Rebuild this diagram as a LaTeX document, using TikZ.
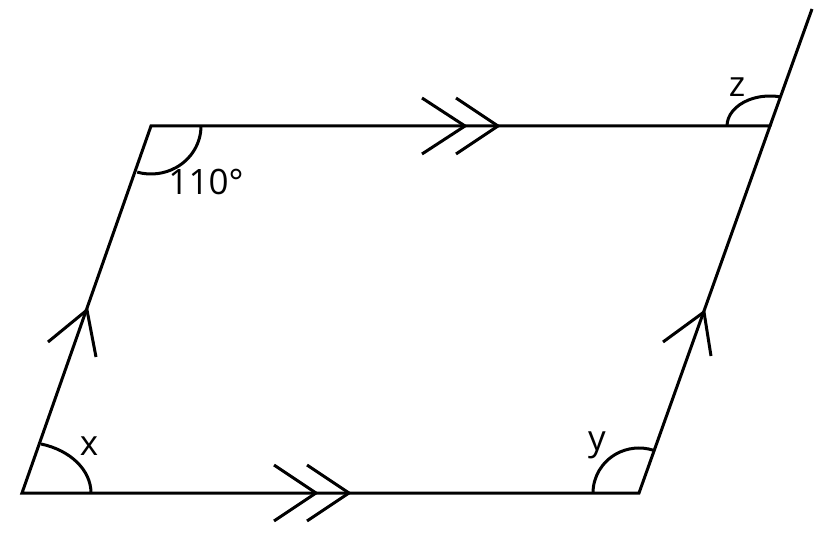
\documentclass[tikz,border=0pt]{standalone}
\usepackage{fontspec}
\setmainfont{Open Sans}
\begin{document}
\begin{tikzpicture}[x=1pt,y=-1pt,
  edge/.style={line width=3pt,line join=miter},
  tick/.style={line width=3pt},
  anglearc/.style={line width=3pt},
  lab/.style={font=\fontsize{35}{40}\selectfont,inner sep=0pt}]
\useasboundingbox (0,0) rectangle (819,534);
\coordinate (BL) at (22,493);
\coordinate (BR) at (639,493);
\coordinate (TR) at (770,126);
\coordinate (TL) at (151,126);
\coordinate (EX) at (812,9);
% parallelogram
\draw[edge] (BL) -- (BR) -- (TR) -- (TL) -- cycle;
\draw[edge] (TR) -- (EX);
% double chevrons bottom
\draw[tick] (274,465) -- (316,493) -- (274,521);
\draw[tick] (307,465) -- (349,493) -- (307,521);
% double chevrons top
\draw[tick] (422,98) -- (465,126) -- (422,154);
\draw[tick] (456,98) -- (498,126) -- (456,154);
% single chevrons on sides
\draw[tick] (48,342) -- (87,310) -- (96,357);
\draw[tick] (663,342) -- (704,312) -- (711,356);
% angle arcs
\draw[anglearc] (91,493) arc[start angle=0,end angle=-74,x radius=69,y radius=51];
\draw[anglearc] (201,126) arc[start angle=0,end angle=106,x radius=50,y radius=48];
\draw[anglearc] (593,493) arc[start angle=180,end angle=288,x radius=46,y radius=45];
\draw[anglearc] (727,126) arc[start angle=180,end angle=283,x radius=43,y radius=30];
% labels
\node[lab] (lx) at (89,446) {x};
\node[lab] (ly) at (597,445) {y};
\node[lab] (lz) at (737,87) {z};
\node[lab] (l110) at (206,182) {110°};
\end{tikzpicture}
\end{document}
